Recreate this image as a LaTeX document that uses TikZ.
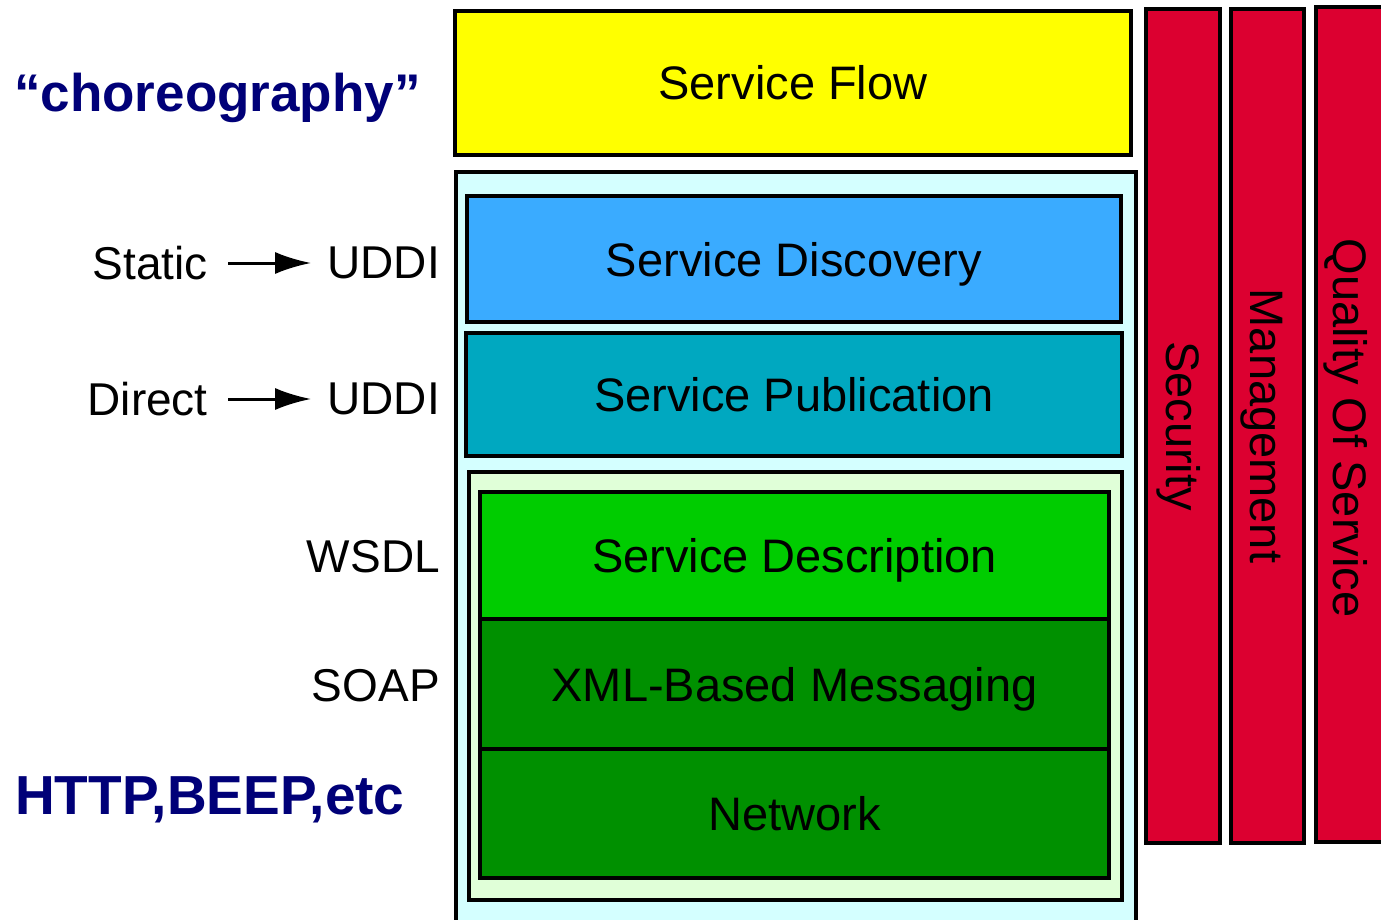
\documentclass[tikz,border=0pt]{standalone}
\usepackage{fontspec}
\setmainfont{Liberation Sans}
\usetikzlibrary{arrows.meta}
\definecolor{flowyellow}{HTML}{FFFF00}
\definecolor{discblue}{HTML}{3AABFF}
\definecolor{pubteal}{HTML}{00A8C0}
\definecolor{descgreen}{HTML}{00CC00}
\definecolor{darkgreen}{HTML}{009000}
\definecolor{barred}{HTML}{DC0030}
\definecolor{lightcyan}{HTML}{D4FFFF}
\definecolor{lightgreen}{HTML}{E0FFD8}
\definecolor{navytext}{HTML}{000078}
\tikzset{
  layer/.style={draw=black, line width=3.5pt, inner sep=0pt, text height=34pt, text depth=0pt, font=\fontsize{47}{50}\selectfont},
  sidebar/.style={layer, fill=barred, rotate=-90},
  lbl/.style={inner sep=0pt, font=\fontsize{46}{50}\selectfont},
  bold/.style={inner sep=0pt, text=navytext, font=\fontsize{54}{58}\selectfont\bfseries},
  conn/.style={line width=3pt, -{Latex[length=36pt,width=22pt]}, shorten <=20pt, shorten >=16pt}
}
\begin{document}
\begin{tikzpicture}[x=1pt,y=-1pt]
\clip (0,0) rectangle (1381,920);
\fill[white] (0,0) rectangle (1381,920);
% Service flow
\node[layer, fill=flowyellow, minimum width=676pt, minimum height=144pt] (flow) at (793,83) {Service Flow};
% outer container
\node[layer, fill=lightcyan, minimum width=680pt, minimum height=780pt] (outer) at (796,562) {};
\node[layer, fill=discblue, minimum width=654pt, minimum height=126pt] (disc) at (794,259) {Service Discovery};
\node[layer, fill=pubteal, minimum width=656pt, minimum height=123pt] (pub) at (794,394.5) {Service Publication};
\node[layer, fill=lightgreen, minimum width=653pt, minimum height=428pt] (inner) at (795.5,686) {};
\node[layer, fill=descgreen, minimum width=629pt, minimum height=127pt] (desc) at (794.5,555.5) {Service Description};
\node[layer, fill=darkgreen, minimum width=629pt, minimum height=130pt] (xml) at (794.5,684) {XML-Based Messaging};
\node[layer, fill=darkgreen, minimum width=629pt, minimum height=129pt] (net) at (794.5,813.5) {Network};
% side bars
\node[sidebar, minimum width=834pt, minimum height=74pt] (sec) at (1183,426) {Security};
\node[sidebar, minimum width=834pt, minimum height=73pt] (mgmt) at (1267.5,426) {Management};
\node[sidebar, minimum width=835pt, minimum height=90pt] (qos) at (1361,424.5) {};
\node[lbl, rotate=-90, font=\fontsize{47}{50}\selectfont] (qostext) at (1346,428) {Quality Of Service};
% left labels
\node[bold, anchor=base west, font=\fontsize{53}{58}\selectfont\bfseries] (choreo) at (14,112) {“choreography”};
\node[bold, anchor=base west, font=\fontsize{55}{58}\selectfont\bfseries] (http) at (15,814) {HTTP,BEEP,etc};
\node[lbl, anchor=east] (static) at (208,263) {Static};
\node[lbl, anchor=east] (uddione) at (440,263) {UDDI};
\node[lbl, anchor=east] (direct) at (208,399) {Direct};
\node[lbl, anchor=east] (udditwo) at (440,399) {UDDI};
\node[lbl, anchor=east] (wsdl) at (440,557) {WSDL};
\node[lbl, anchor=east] (soap) at (440,686) {SOAP};
\draw[conn] (static.east) -- (static.east -| uddione.west);
\draw[conn] (direct.east) -- (direct.east -| udditwo.west);
\end{tikzpicture}
\end{document}
